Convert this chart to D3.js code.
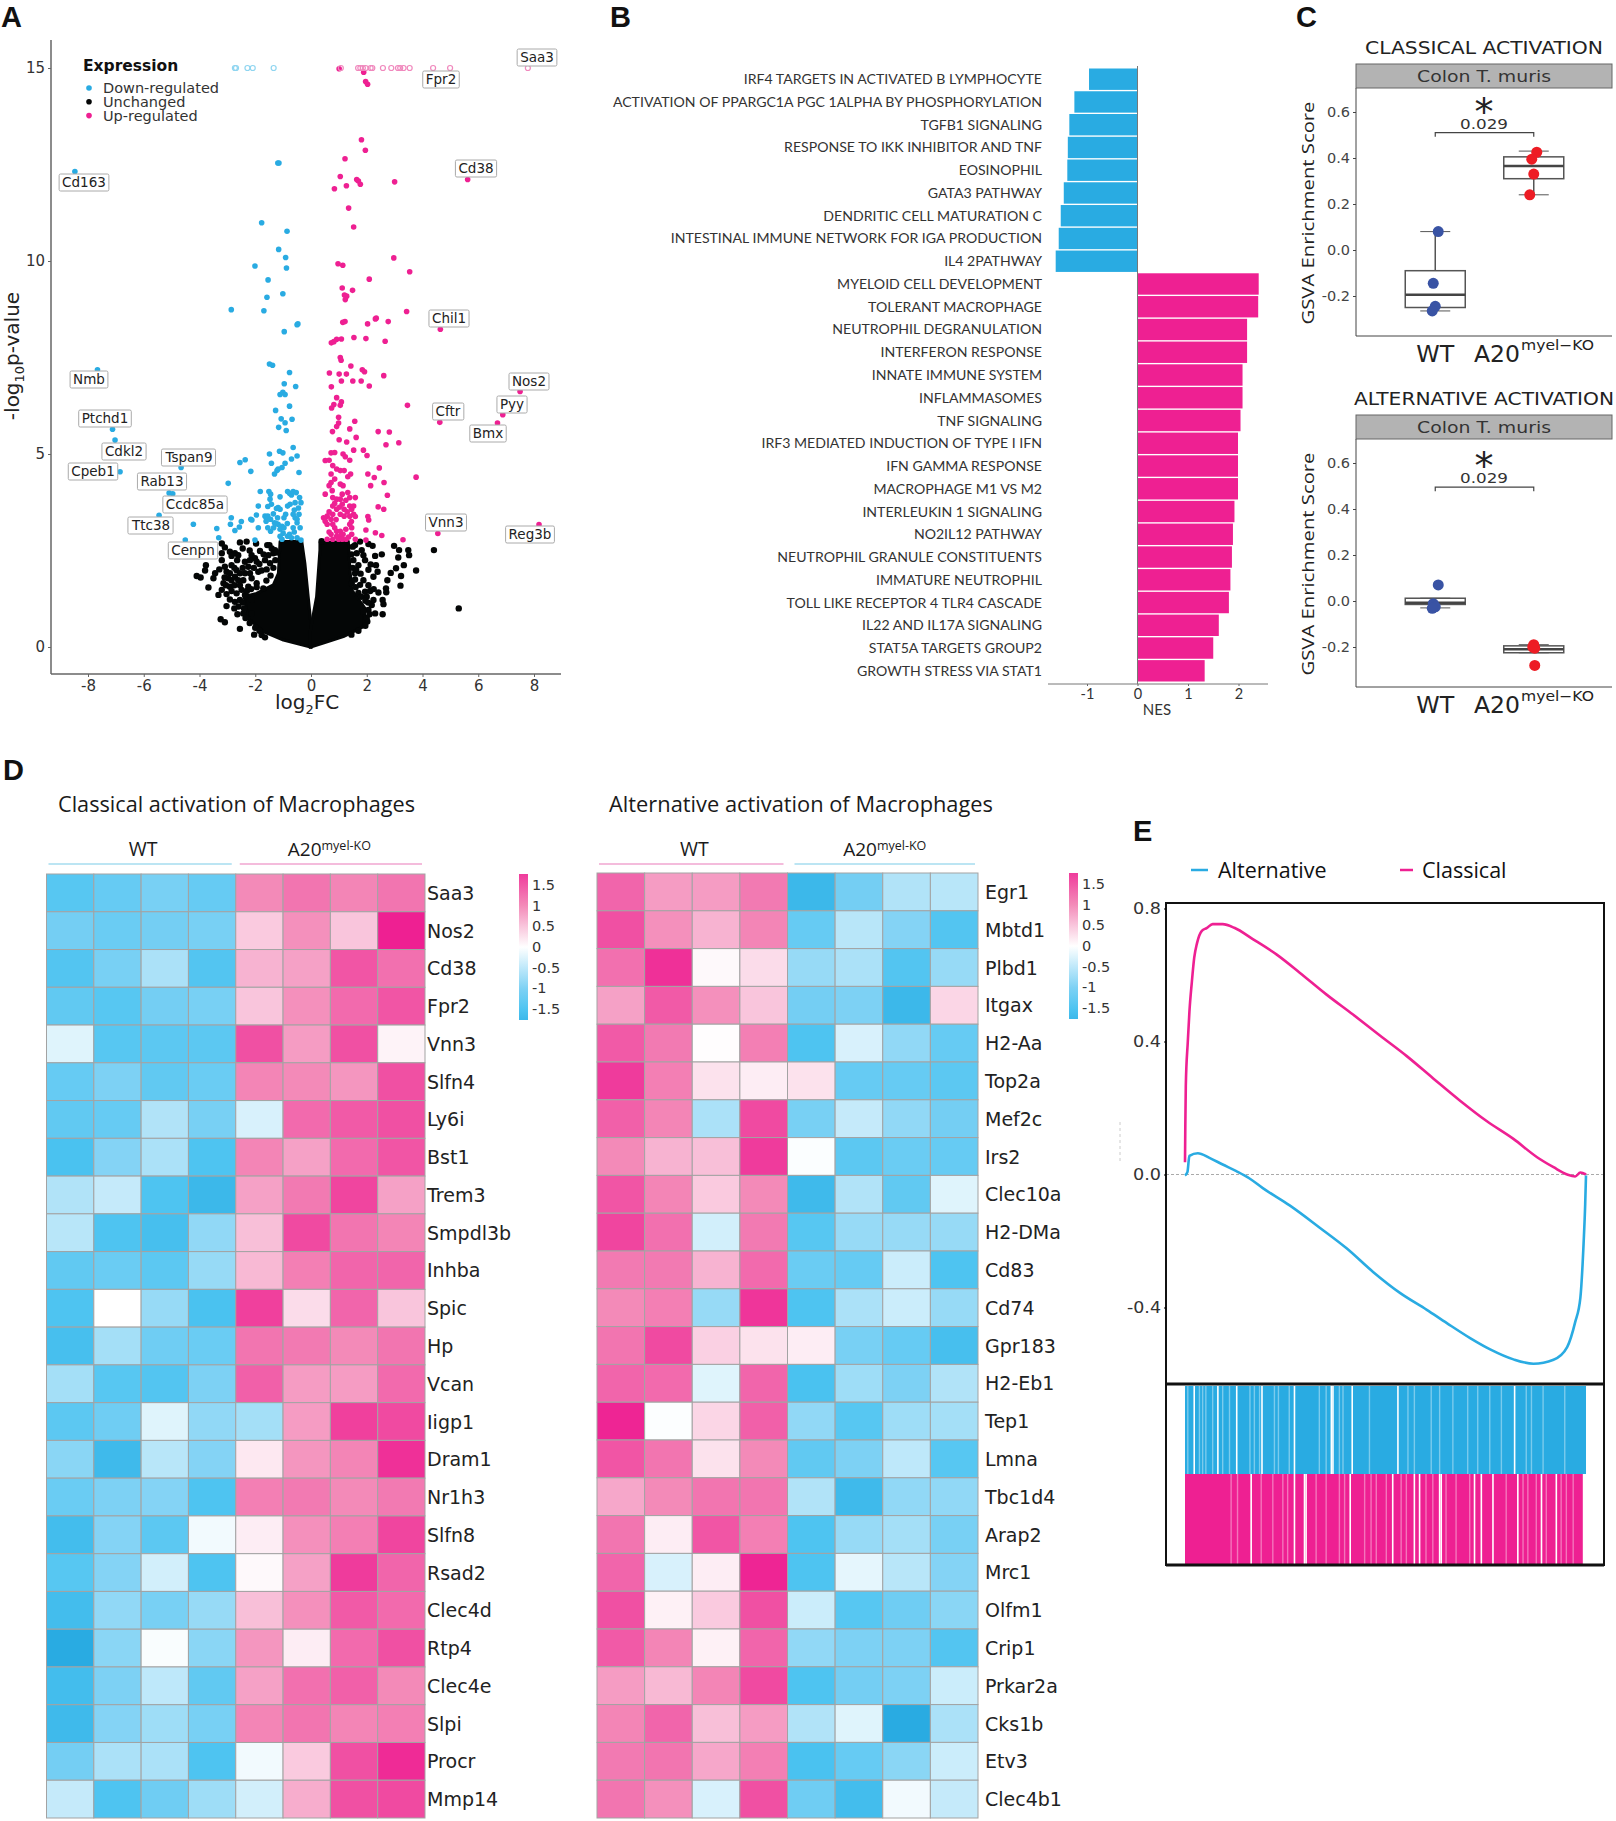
<!DOCTYPE html>
<html>
<head>
<meta charset="utf-8">
<title>A20 myeloid KO panels</title>
<script src="https://cdn.jsdelivr.net/npm/d3@7"></script>
<style>
  html, body { margin: 0; padding: 0; background: #fff; }
  svg { display: block; }
  text { font-family: "DejaVu Sans", sans-serif; }
</style>
</head>
<body>
<div id="main"></div>
<script>
// ---- panel A: volcano, [log2FC, -log10 p]
var volcanoUp = [[1.01,14.98],[1.89,14.89],[1.96,14.65],[2.03,14.58],[1.81,13.14],[1.95,12.87],[1.22,12.65],[1.05,12.19],[1.64,12.11],[1.7,12.07],[1.77,11.99],[1.27,11.95],[.84,11.87],[3.0,12.05],[5.62,12.11],[1.35,11.37],[1.53,10.88],[.97,9.93],[1.14,9.89],[2.97,10.08],[3.54,9.72],[2.09,9.53],[1.12,9.3],[1.49,9.24],[1.2,9.12],[1.28,9.09],[1.23,9.0],[3.43,8.69],[2.34,8.52],[2.31,8.5],[2.77,8.43],[1.14,8.41],[1.22,8.43],[2.03,8.37],[4.64,8.23],[1.54,8.02],[1.97,7.99],[2.66,7.92],[1.09,7.98],[.92,7.97],[.82,7.91],[.73,7.88],[1.05,7.5],[1.08,7.43],[1.43,7.28],[1.84,7.18],[1.92,7.13],[.66,7.1],[1.01,7.07],[1.27,7.07],[2.61,7.03],[.73,6.74],[1.09,6.89],[1.5,6.89],[1.8,6.89],[2.09,6.76],[.92,6.46],[1.09,6.35],[1.05,6.26],[.82,6.28],[.74,6.19],[3.46,6.26],[.99,5.95],[1.57,5.85],[.99,5.8],[.92,5.71],[1.39,5.65],[.77,5.58],[2.41,5.58],[2.81,5.57],[4.62,5.82],[1.62,5.43],[1.01,5.37],[1.28,5.31],[3.15,5.29],[2.69,5.24],[7.5,6.62],[6.88,6.02],[6.69,5.8],[8.18,3.17],[4.55,2.94],[3.3,2.78],[1.53,5.1],[1.88,5.1],[2.01,4.96],[.72,5.03],[.85,5.04],[1.15,5.0],[1.23,4.93],[1.39,4.84],[.51,4.83],[.65,4.84],[.78,4.7],[.92,4.61],[1.05,4.57],[1.19,4.57],[.72,4.48],[1.32,4.41],[1.42,4.48],[2.04,4.48],[2.27,4.39],[2.45,4.64],[2.62,4.26],[3.77,4.4],[.85,4.35],[.72,4.26],[.65,4.18],[1.05,4.22],[1.15,4.18],[2.14,4.18],[.51,3.96],[.76,4.05],[1.12,3.96],[1.32,4.0],[.78,3.87],[.92,3.83],[1.05,3.83],[1.39,3.87],[1.59,3.87],[2.74,3.93],[.78,3.65],[1.12,3.7],[1.39,3.65],[1.53,3.65],[2.41,3.63],[2.61,3.57],[1.05,3.44],[1.46,3.57],[1.53,3.44],[.45,3.35],[.58,3.39],[.72,3.31],[.51,3.26],[.78,3.44],[1.19,3.39],[1.39,3.39],[1.59,3.38],[2.04,3.38],[2.07,3.29],[.58,3.18],[.78,3.18],[1.39,3.18],[1.46,3.09],[1.97,3.03],[2.31,2.96],[2.54,2.89],[1.97,2.77],[.72,2.92],[.92,3.0],[1.05,3.0],[.92,2.87],[1.05,2.87],[.58,2.79],[.78,2.79],[.99,2.79],[1.12,2.79],[1.26,2.79],[1.59,2.79],[1.46,2.92],[.85,3.09],[1.19,3.57],[.92,3.57],[.65,3.5],[.85,3.72],[1.25,3.8],[1.3,3.5],[1.45,3.25],[1.25,3.05],[.65,2.98],[1.15,2.92],[1.35,2.85],[.9,3.3],[1.02,3.62]];
var volcanoDown = [[-8.47,12.32],[-1.19,12.54],[-1.15,12.54],[-1.77,10.99],[-.86,10.77],[-1.16,10.3],[-.91,10.09],[-2.01,9.87],[-.88,9.82],[-1.54,9.51],[-1.01,9.15],[-1.58,9.06],[-2.86,8.74],[-1.69,8.71],[-.5,8.35],[-.47,8.37],[-.96,8.17],[-7.66,7.18],[-1.49,7.33],[-1.38,7.3],[-.77,7.11],[-7.12,5.64],[-7.03,5.36],[-6.85,4.54],[-4.66,4.65],[-5.09,3.99],[-4.96,3.97],[-5.45,3.41],[-4.22,3.18],[-4.51,2.77],[-3.38,3.07],[-3.31,2.83],[-2.97,4.24],[-2.86,3.35],[-2.89,3.18],[-2.73,3.02],[-2.57,3.11],[-2.5,3.25],[-2.55,4.78],[-2.36,4.85],[-2.16,4.55],[-2.16,3.31],[-2.12,3.29],[-1.96,3.42],[-1.89,3.65],[-1.89,3.09],[-2.01,2.77],[-1.82,4.03],[-1.49,5.0],[-1.42,4.76],[-1.13,5.07],[-1.01,5.03],[-.64,5.17],[-.5,4.95],[-.7,4.87],[-.93,4.76],[-1.04,4.65],[-1.18,4.61],[-1.22,4.57],[-1.31,4.48],[-.43,4.52],[-.96,6.82],[-.55,6.75],[-1.11,6.54],[-1.01,6.6],[-.93,6.54],[-.77,6.24],[-1.27,6.13],[-1.07,5.91],[-.93,5.81],[-.68,5.9],[-1.16,5.69],[-.89,5.61],[-1.51,4.03],[-1.45,3.96],[-1.11,3.89],[-.84,4.03],[-.77,3.98],[-.7,3.94],[-.64,4.03],[-.53,4.0],[-.41,3.87],[-1.47,3.83],[-1.42,3.7],[-1.55,3.64],[-1.18,3.61],[-1.11,3.57],[-1.24,3.59],[-.84,3.65],[-.57,3.74],[-.36,3.74],[-1.65,3.39],[-1.55,3.39],[-1.45,3.31],[-1.61,3.26],[-1.31,3.22],[-1.18,3.18],[-1.04,3.13],[-1.34,3.09],[-1.11,3.05],[-.97,3.09],[-.91,3.44],[-.64,3.44],[-.57,3.35],[-.43,3.44],[-.5,3.31],[-.5,3.22],[-.39,3.09],[-.64,3.09],[-.77,2.92],[-1.11,2.87],[-1.04,2.79],[-.7,2.83],[-.5,2.83],[-.36,2.77],[-1.45,3.0],[-1.55,3.09],[-.84,2.87],[-.97,3.35],[-1.25,3.2],[-1.2,3.35],[-.75,3.7],[-.6,3.55],[-1.0,2.95],[-.6,2.98],[-1.35,3.45],[-.45,3.6],[-.85,3.2]];
var volcanoFlat = [[-3.2,2.68],[-3.09,2.58],[-2.55,2.71],[-2.31,2.73],[-1.97,2.68],[-1.57,2.64],[-1.49,2.64],[-1.83,2.49],[-2.91,2.47],[-2.73,2.43],[-2.61,2.38],[-2.85,2.36],[-3.2,2.43],[-3.2,2.25],[-3.77,2.12],[-3.8,1.98],[-4.1,1.84],[-3.96,1.8],[-3.44,1.91],[-3.5,1.78],[-3.29,2.01],[-3.09,2.08],[-3.03,1.95],[-2.91,1.91],[-2.85,2.12],[-2.13,2.38],[-2.01,2.3],[-2.19,2.25],[-2.37,2.21],[-2.25,2.08],[-1.95,2.21],[-1.65,2.25],[-1.47,2.17],[-1.53,2.38],[-1.89,1.95],[-1.77,1.98],[-1.59,2.01],[-2.37,1.91],[-2.19,1.91],[-2.67,1.99],[-2.55,1.91],[-2.97,1.78],[-2.85,1.73],[-2.73,1.82],[-2.61,1.73],[-2.43,1.73],[-2.13,1.78],[-3.14,1.65],[-2.91,1.56],[-3.68,1.54],[-3.32,1.35],[-3.2,1.48],[-3.03,1.37],[-2.91,1.23],[-3.03,1.06],[-2.67,1.39],[-2.49,1.48],[-2.25,1.56],[-2.73,1.17],[-2.55,1.22],[-2.37,1.35],[-2.64,.85],[-2.43,.87],[-3.24,.72],[-3.09,.64],[-2.55,.47],[-2.04,.32],[-1.77,.31],[-1.65,.25],[-2.13,.87],[-1.95,1.65],[-1.71,1.52],[-1.41,2.55],[-1.29,2.51],[-1.35,2.43],[-2.13,1.22],[-2.45,1.15],[-2.4,1.0],[-2.35,.75],[-2.2,.62],[-2,.5],[-1.85,.42],[-2.3,1.45],[-2.15,1.5],[-1.95,1.55],[-1.6,1.72],[-1.45,1.85],[-1.35,2.05],[-1.28,2.25],[-1.22,2.45],[-2.6,1.05],[-2.75,1.0],[-2.85,1.45],[-2.75,1.6],[-2.55,1.6],[-3.05,1.6],[-3.1,1.8],[-2.75,2.05],[-2.65,2.25],[-2.45,2.05],[-2.05,2.05],[-1.85,2.15],[-1.7,2.4],[-2.45,2.55],[-2.2,2.5],[.38,2.74],[1.58,2.64],[1.76,2.73],[2.06,2.67],[2.21,2.62],[1.82,2.51],[1.88,2.38],[1.64,2.43],[1.94,2.25],[1.52,2.25],[1.7,2.12],[2.3,2.36],[2.54,2.4],[2.33,2.12],[2.14,2.14],[2.06,2.0],[2.39,1.95],[2.24,1.82],[2.98,2.62],[3.16,2.51],[3.49,2.51],[3.52,2.38],[3.13,2.32],[3.33,2.12],[3.77,1.98],[3.05,2.04],[2.86,1.92],[3.23,1.84],[3.21,1.59],[2.74,1.73],[2.69,1.52],[2.7,1.42],[2.42,1.41],[2.57,1.22],[2.6,1.11],[2.57,.85],[2.24,1.22],[2.3,.87],[1.94,1.43],[2.06,1.6],[1.88,1.73],[1.76,1.61],[1.58,1.91],[1.46,1.65],[2.0,1.3],[2.18,1.09],[2.06,.96],[2.02,.66],[1.88,.91],[4.41,2.51],[5.3,1.0],[1.5,2.6],[1.45,2.4],[1.5,2.05],[1.58,1.75],[1.7,1.4],[1.8,1.3],[1.95,1.2],[2.05,1.15],[2.1,.85],[2.0,.75],[1.95,.55],[1.7,.42],[1.45,.32],[1.62,2.0],[1.78,1.9],[2.12,1.45],[2.25,1.5],[1.6,1.55]];
// outlines of the solid black mass, where single points cannot be told apart
var massLeft = [[.02,.44],[-.1,1.3],[-.22,2.17],[-.33,2.73],[-1.11,2.73],[-1.17,1.91],[-1.35,1.61],[-1.95,1.39],[-2.4,1.3],[-2.25,.74],[-1.71,.4],[-.99,.18],[.02,-.01]];
var massRight = [[-.04,.36],[.2,1.3],[.32,2.51],[.32,2.7],[1.34,2.73],[1.4,2.0],[1.46,1.48],[1.94,1.0],[1.88,.53],[1.16,.27],[.44,.1],[-.04,-.01]];
var cappedDown = [-2.73,-2.69,-2.28,-2.09,-1.34];
var cappedUp = [1.07,1.69,1.77,1.86,1.96,2.14,2.2,2.58,2.88,3.12,3.2,3.32,3.54,4.38,4.99,7.78];
var volcanoXTicks = [-8,-6,-4,-2,0,2,4,6,8];
var volcanoYTicks = [0,5,10,15];
var volcanoLegend = ['Down-regulated','Unchanged','Up-regulated'];
var geneTags = ['Saa3','Fpr2','Cd163','Cd38','Chil1','Nmb','Nos2','Pyy','Cftr','Bmx','Ptchd1','Cdkl2','Tspan9','Cpeb1','Rab13','Ccdc85a','Ttc38','Vnn3','Reg3b','Cenpn'];

// ---- panel B: pathways and NES
var pathways = ['IRF4 TARGETS IN ACTIVATED B LYMPHOCYTE','ACTIVATION OF PPARGC1A PGC 1ALPHA BY PHOSPHORYLATION','TGFB1 SIGNALING','RESPONSE TO IKK INHIBITOR AND TNF','EOSINOPHIL','GATA3 PATHWAY','DENDRITIC CELL MATURATION C','INTESTINAL IMMUNE NETWORK FOR IGA PRODUCTION','IL4 2PATHWAY','MYELOID CELL DEVELOPMENT','TOLERANT MACROPHAGE','NEUTROPHIL DEGRANULATION','INTERFERON RESPONSE','INNATE IMMUNE SYSTEM','INFLAMMASOMES','TNF SIGNALING','IRF3 MEDIATED INDUCTION OF TYPE I IFN','IFN GAMMA RESPONSE','MACROPHAGE M1 VS M2','INTERLEUKIN 1 SIGNALING','NO2IL12 PATHWAY','NEUTROPHIL GRANULE CONSTITUENTS','IMMATURE NEUTROPHIL','TOLL LIKE RECEPTOR 4 TLR4 CASCADE','IL22 AND IL17A SIGNALING','STAT5A TARGETS GROUP2','GROWTH STRESS VIA STAT1'];
var nes = [-.96,-1.25,-1.35,-1.38,-1.39,-1.46,-1.52,-1.56,-1.62,2.4,2.39,2.17,2.17,2.08,2.08,2.04,1.99,1.99,1.99,1.92,1.89,1.87,1.84,1.81,1.61,1.5,1.33];
var nesTicks = [-1,0,1,2];

// ---- panel C: GSVA scores, [q1, median, q3, low whisker, high whisker]
var gsvaTicks = [-.2,0,.2,.4,.6];
var classicalWtBox = [-.25,-.195,-.09,-.265,.08];
var classicalKoBox = [.31,.365,.405,.24,.43];
var alternativeWtBox = [-.015,-.008,.012,-.03,.012];
var alternativeKoBox = [-.225,-.21,-.195,-.225,-.19];
var classicalWtScores = [.08,-.145,-.245,-.265];
var classicalKoScores = [.425,.395,.33,.24];
var alternativeWtScores = [.07,-.012,-.025,-.032];
var alternativeKoScores = [-.19,-.2,-.205,-.28];

// ---- panel D: z scores per gene, 4 WT then 4 KO
var classicalGenes = ['Saa3','Nos2','Cd38','Fpr2','Vnn3','Slfn4','Ly6i','Bst1','Trem3','Smpdl3b','Inhba','Spic','Hp','Vcan','Iigp1','Dram1','Nr1h3','Slfn8','Rsad2','Clec4d','Rtp4','Clec4e','Slpi','Procr','Mmp14'];
var classicalZ = [
  [-1.4,-1.25,-1.05,-1.25,1.0,1.2,1.05,1.2],
  [-1.1,-1.2,-1.1,-1.05,.45,.95,.5,2.0],
  [-1.45,-1.05,-.65,-1.45,.65,.8,1.5,1.25],
  [-1.3,-1.4,-1.1,-1.05,.5,.95,1.3,1.5],
  [-.25,-1.4,-1.35,-1.35,1.55,.85,1.55,.1],
  [-1.25,-1.0,-1.3,-1.2,1.05,1.0,.9,1.55],
  [-1.3,-1.25,-.6,-1.05,-.3,1.3,1.45,1.55],
  [-1.55,-.95,-.65,-1.5,1.05,.8,1.3,1.5],
  [-.6,-.45,-1.5,-1.75,.8,1.15,1.65,.8],
  [-.55,-1.5,-1.6,-.85,.55,1.6,1.2,1.05],
  [-1.3,-1.2,-1.35,-.8,.6,1.1,1.35,1.35],
  [-1.5,0,-.8,-1.55,1.7,.3,1.35,.5],
  [-1.6,-.7,-1.15,-1.2,1.2,1.15,1.0,1.2],
  [-.7,-1.4,-1.45,-1.0,1.4,.85,.85,1.3],
  [-1.35,-1.15,-.25,-.85,-.7,.85,1.7,1.6],
  [-.9,-1.7,-.55,-.95,.2,.9,1.05,1.85],
  [-1.2,-1.0,-.95,-1.5,1.1,1.15,1.0,1.15],
  [-1.65,-.95,-1.35,-.1,.15,.95,1.1,1.65],
  [-1.4,-.95,-.35,-1.5,.05,.8,1.75,1.35],
  [-1.65,-.85,-1.05,-.8,.55,.95,1.45,1.3],
  [-2,-.9,-.05,-.9,.9,.15,1.3,1.55],
  [-1.65,-1.0,-.5,-1.3,.8,1.25,1.4,1.0],
  [-1.7,-.95,-.75,-1.05,1.05,1.2,1.05,1.1],
  [-1.1,-.65,-.65,-1.5,-.1,.45,1.55,1.9],
  [-.45,-1.5,-1.15,-.75,-.35,.7,1.55,1.6]
];
var alternativeGenes = ['Egr1','Mbtd1','Plbd1','Itgax','H2-Aa','Top2a','Mef2c','Irs2','Clec10a','H2-DMa','Cd83','Cd74','Gpr183','H2-Eb1','Tep1','Lmna','Tbc1d4','Arap2','Mrc1','Olfm1','Crip1','Prkar2a','Cks1b','Etv3','Clec4b1'];
var alternativeZ = [
  [1.35,.85,.85,1.15,-1.75,-1.1,-.6,-.55],
  [1.55,.95,.65,1.05,-1.25,-.55,-.95,-1.45],
  [1.25,1.85,.05,.3,-.8,-.65,-1.45,-.8],
  [.8,1.45,.95,.5,-1.1,-1.0,-1.75,.35],
  [1.45,1.15,.02,1.1,-1.5,-.3,-.85,-1.25],
  [1.75,1.1,.25,.15,.25,-1.25,-1.25,-1.35],
  [1.4,1.05,-.65,1.6,-1.05,-.45,-.85,-1.1],
  [1.0,.65,.55,1.75,-.03,-1.35,-1.2,-1.25],
  [1.5,1.05,.45,1.0,-1.7,-.6,-1.3,-.25],
  [1.65,1.25,-.35,1.15,-1.4,-.8,-.8,-.8],
  [1.15,1.15,.65,1.3,-1.2,-1.25,-.4,-1.5],
  [1.0,1.1,-.8,1.8,-1.5,-.65,-.4,-.8],
  [1.2,1.6,.4,.25,.15,-1.05,-1.25,-1.6],
  [1.35,1.3,-.25,1.35,-1.55,-.75,-1.0,-.6],
  [1.95,-.02,.35,1.4,-.85,-1.4,-.75,-.7],
  [1.5,1.2,.25,1.0,-1.3,-1.0,-.5,-1.4],
  [.75,1.0,1.2,1.2,-.6,-1.7,-.85,-.85],
  [1.2,.15,1.5,1.1,-1.5,-.8,-.7,-1.05],
  [1.35,-.3,.15,1.95,-1.5,-.2,-.55,-.95],
  [1.55,.12,.45,1.55,-.4,-1.4,-1.15,-.9],
  [1.45,1.05,.12,1.35,-.85,-1.0,-1.0,-1.45],
  [.85,.6,1.05,1.6,-1.5,-1.1,-1.0,-.4],
  [1.05,1.35,.55,.85,-.6,-.25,-2,-.65],
  [1.15,1.2,.75,1.1,-1.55,-1.25,-.9,-.4],
  [1.2,.95,-.3,1.55,-1.15,-1.65,-.1,-.45]
];
var zLegendTicks = [1.5,1,.5,0,-.5,-1,-1.5];

// ---- panel E: enrichment curves, [rank %, running score]
var classicalCurve = [[0,.037],[.08,.148],[.2,.267],[.7,.4],[1.1,.489],[1.7,.578],[2.3,.652],[3,.696],[4.2,.733],[5.4,.741],[6.9,.753],[9.4,.753],[12.3,.742],[16.9,.708],[22.8,.662],[28.6,.607],[35.3,.541],[41.9,.481],[48.6,.418],[55.3,.356],[61.9,.289],[68.6,.222],[75.3,.16],[81.9,.107],[87.8,.052],[91.9,.022],[95.3,0],[97.3,-.006],[98.6,.006],[100,0]];
var alternativeCurve = [[0,-.003],[.6,.007],[1.1,.056],[3.2,.064],[6.1,.05],[9.4,.03],[12.8,.01],[16.1,-.012],[19.4,-.041],[26.1,-.093],[33.6,-.16],[40.3,-.222],[46.9,-.293],[53.6,-.356],[60.3,-.407],[65.3,-.447],[71.1,-.492],[76.1,-.526],[81.9,-.556],[86.9,-.569],[91.9,-.557],[95.3,-.519],[97.3,-.444],[98.6,-.37],[99.4,-.207],[99.8,-.089],[100,-.003]];
var enrichTicks = [-.4,0,.4,.8];
// rug bands: clear white gaps and fainter streaks between gene hits (rank %)
var alternativeRugGaps = [2.3,8.2,12.9,19.2,27.3,36.5,36.9,41.7,53.1,82.2];
var alternativeRugFaint = [.7,3.6,4.4,5.2,6.9,9.4,11.1,16.2,17.3,18.6,22.3,23.3,26,33.5,35.2,38.5,39.4,46,55.6,57.2,61.4,63.5,66.8,70.5,73,76,78.9,85.1,86.4,89.3,94.7];
var classicalRugGaps = [16.5,27.3,29.8,30.2,41.2,51.8,57.2,58.5,63.5,63.9,72.2,73.9,76.8,83,88.9,92.6];
var classicalRugFaint = [11.5,13.1,19,21.9,24.4,25.6,32.7,35.2,38.5,39.8,44.8,46.4,47.7,50.2,53.9,55.2,60.1,61.8,65.1,67.6,71,80.1,84.3,85.5,87.6,90.1,93.8,95.1,96.8];

var blue = '#29abe2', pink = '#ee2092';
var svg = d3.select('#main').append('svg').attr('width', 1616).attr('height', 1821);

// d3 formats negatives with a true minus, the figure has hyphens
function hyphen(f) {
  return function(d) { return f(d).replace('\u2212', '-'); };
}

// panel letters
[['A',1,27],['B',610,27],['C',1296,27],['D',3,780],['E',1133,841]].forEach(function(p) {
  svg.append('text').attr('x', p[1]).attr('y', p[2]).text(p[0])
    .style('font-family', '"Liberation Sans"').style('font-weight', 'bold').style('font-size', '29px').attr('fill', '#111');
});

// stretched text, several panels were resized unevenly in the figure
function fitText(g, x, y, str, len, size, anchor, fill, family) {
  return g.append('text').attr('x', x).attr('y', y).text(str)
    .attr('text-anchor', anchor || 'start').attr('textLength', len).attr('lengthAdjust', 'spacingAndGlyphs')
    .style('font-size', size + 'px').style('font-family', family || '"DejaVu Sans"').attr('fill', fill || '#222');
}

/* ---------- A ---------- */
var vx = d3.scaleLinear().domain([-8, 8]).range([88, 534]);
var vy = d3.scaleLinear().domain([0, 15]).range([647, 68]);
var gA = svg.append('g');

var massLine = d3.line().x(function(d) { return vx(d[0]); }).y(function(d) { return vy(d[1]); }).curve(d3.curveLinearClosed);
[massLeft, massRight].forEach(function(m) {
  gA.append('path').attr('d', massLine(m)).attr('fill', '#040606').attr('stroke', '#040606').attr('stroke-width', 3).attr('stroke-linejoin', 'round');
});
gA.selectAll('.flat').data(volcanoFlat).enter().append('circle').attr('class', 'flat')
  .attr('cx', function(d) { return vx(d[0]); }).attr('cy', function(d) { return vy(d[1]); }).attr('r', 3.2).attr('fill', '#040606');
gA.selectAll('.down').data(volcanoDown).enter().append('circle').attr('class', 'down')
  .attr('cx', function(d) { return vx(d[0]); }).attr('cy', function(d) { return vy(d[1]); }).attr('r', 2.8).attr('fill', blue);
gA.selectAll('.up').data(volcanoUp).enter().append('circle').attr('class', 'up')
  .attr('cx', function(d) { return vx(d[0]); }).attr('cy', function(d) { return vy(d[1]); }).attr('r', 2.8).attr('fill', pink);
gA.selectAll('.capD').data(cappedDown).enter().append('circle').attr('class', 'capD')
  .attr('cx', function(d) { return vx(d); }).attr('cy', vy(15)).attr('r', 2.5).attr('fill', 'none').attr('stroke', '#8fd5f0').attr('stroke-width', 1.2);
gA.selectAll('.capU').data(cappedUp).enter().append('circle').attr('class', 'capU')
  .attr('cx', function(d) { return vx(d); }).attr('cy', vy(15)).attr('r', 2.5).attr('fill', 'none').attr('stroke', '#f088bd').attr('stroke-width', 1.2);

var xAxisA = gA.append('g').attr('transform', 'translate(0,674)')
  .call(d3.axisBottom(vx).tickValues(volcanoXTicks).tickSize(3).tickFormat(hyphen(d3.format('d'))));
var yAxisA = gA.append('g').attr('transform', 'translate(51,0)')
  .call(d3.axisLeft(vy).tickValues(volcanoYTicks).tickSize(3));
[xAxisA, yAxisA].forEach(function(a) {
  a.selectAll('text').style('font-size', '15px').attr('fill', '#333');
  a.selectAll('line').attr('stroke', '#666');
  a.select('.domain').remove();
});
gA.append('line').attr('x1', 51).attr('x2', 561).attr('y1', 674).attr('y2', 674).attr('stroke', '#666').attr('stroke-width', 1.5);
gA.append('line').attr('x1', 51).attr('x2', 51).attr('y1', 40).attr('y2', 674).attr('stroke', '#666').attr('stroke-width', 1.5);

gA.append('text').attr('x', 83).attr('y', 71).text('Expression').style('font-weight', 'bold').style('font-size', '15.5px').attr('fill', '#111');
[blue, '#040606', pink].forEach(function(c, i) {
  var ly = 88 + i * 13.8;
  gA.append('circle').attr('cx', 89).attr('cy', ly).attr('r', 2.8).attr('fill', c);
  gA.append('text').attr('x', 103).attr('y', ly + 5).text(volcanoLegend[i]).style('font-size', '14.5px').attr('fill', '#333');
});

var xLabA = gA.append('text').attr('x', 307).attr('y', 709).attr('text-anchor', 'middle').style('font-size', '20px').attr('fill', '#222');
xLabA.append('tspan').text('log');
xLabA.append('tspan').text('2').attr('dy', 5).style('font-size', '13px');
xLabA.append('tspan').text('FC').attr('dy', -5);
var yLabA = gA.append('text').attr('transform', 'translate(19,356) rotate(-90)').attr('text-anchor', 'middle').style('font-size', '20px').attr('fill', '#222');
yLabA.append('tspan').text('-log');
yLabA.append('tspan').text('10').attr('dy', 5).style('font-size', '13px');
yLabA.append('tspan').text('p-value').attr('dy', -5);

// boxed gene names, centres as placed in the figure
var tagCentres = [[537,57],[441,79],[84,182],[476,168],[449,318],[89,379],[529,381],[512,404],[448,411],[488,433],[105,418],[124,451],[189,457],[93,471],[162,481],[195,504],[151,525],[446,522],[530,534],[193,550]];
geneTags.forEach(function(name, i) {
  var t = gA.append('text').attr('x', tagCentres[i][0]).attr('y', tagCentres[i][1] + 5).attr('text-anchor', 'middle')
    .text(name).style('font-size', '13.5px').attr('fill', '#222');
  var b = t.node().getBBox();
  gA.insert('rect', function() { return t.node(); })
    .attr('x', b.x - 3).attr('y', b.y).attr('width', b.width + 6).attr('height', b.height + 1)
    .attr('rx', 1.5).attr('fill', '#fff').attr('stroke', '#aaa');
});

/* ---------- B ---------- */
var nx = d3.scaleLinear().domain([-1, 2]).range([1087, 1238.5]);
var ny = d3.scaleBand().domain(pathways).range([68.5, 681.5]).paddingInner(.06);
var gB = svg.append('g');
gB.selectAll('rect').data(pathways).enter().append('rect')
  .attr('x', function(d, i) { return Math.min(nx(0), nx(nes[i])); })
  .attr('width', function(d, i) { return Math.abs(nx(nes[i]) - nx(0)); })
  .attr('y', function(d) { return ny(d); }).attr('height', ny.bandwidth())
  .attr('fill', function(d, i) { return nes[i] < 0 ? blue : pink; });
gB.selectAll('.path').data(pathways).enter().append('text').attr('class', 'path')
  .attr('x', 1042).attr('y', function(d) { return ny(d) + ny.bandwidth() / 2 + 5; }).attr('text-anchor', 'end')
  .text(function(d) { return d; }).style('font-family', 'Lato').style('font-size', '14.1px').attr('fill', '#333');
gB.append('line').attr('x1', nx(0)).attr('x2', nx(0)).attr('y1', 66).attr('y2', 684).attr('stroke', '#777');
var axB = gB.append('g').attr('transform', 'translate(0,684)')
  .call(d3.axisBottom(nx).tickValues(nesTicks).tickSize(2).tickFormat(hyphen(d3.format('d'))));
axB.select('.domain').remove();
axB.selectAll('text').style('font-family', 'Lato').style('font-size', '14.5px').attr('fill', '#333');
axB.selectAll('line').attr('stroke', '#666');
gB.append('line').attr('x1', 1048).attr('x2', 1268).attr('y1', 684).attr('y2', 684).attr('stroke', '#777');
gB.append('text').attr('x', 1157).attr('y', 715).attr('text-anchor', 'middle').text('NES').style('font-family', 'Lato').style('font-size', '15px').attr('fill', '#333');

/* ---------- C ---------- */
var boxX = d3.scaleBand().domain(['WT', 'KO']).range([1386, 1583]).padding(0);
function gsvaPanel(top, title, titleLen, wtBox, koBox, wtPts, koPts, koJitter, bracket) {
  var g = svg.append('g');
  var y = d3.scaleLinear().domain([0, .6]).range([top + 204, top + 66]);
  fitText(g, 1484, top + 8, title, titleLen, 18, 'middle', '#222');
  g.append('rect').attr('x', 1356).attr('y', top + 18).attr('width', 256).attr('height', 24).attr('fill', '#b3b3b3').attr('stroke', '#666');
  fitText(g, 1484, top + 36, 'Colon T. muris', 134, 16.5, 'middle', '#333');
  g.append('line').attr('x1', 1356).attr('x2', 1356).attr('y1', top + 42).attr('y2', top + 290).attr('stroke', '#444');
  g.append('line').attr('x1', 1356).attr('x2', 1612).attr('y1', top + 290).attr('y2', top + 290).attr('stroke', '#444');
  var axis = g.append('g').attr('transform', 'translate(1356,0)').call(d3.axisLeft(y).tickValues(gsvaTicks).tickSize(3).tickFormat(hyphen(d3.format('.1f'))));
  axis.select('.domain').remove();
  axis.selectAll('text').style('font-size', '14.5px').attr('fill', '#444');
  axis.selectAll('line').attr('stroke', '#444');

  [[wtBox, wtPts, 'WT', '#3953a4', [3, -2, 0, -3]], [koBox, koPts, 'KO', '#ed1c24', koJitter]].forEach(function(s) {
    var cx = boxX(s[2]) + boxX.bandwidth() / 2, b = s[0];
    g.append('line').attr('x1', cx).attr('x2', cx).attr('y1', y(b[3])).attr('y2', y(b[4])).attr('stroke', '#555').attr('stroke-width', 1.5);
    g.append('line').attr('x1', cx - 15).attr('x2', cx + 15).attr('y1', y(b[3])).attr('y2', y(b[3])).attr('stroke', '#555');
    g.append('line').attr('x1', cx - 15).attr('x2', cx + 15).attr('y1', y(b[4])).attr('y2', y(b[4])).attr('stroke', '#555');
    g.append('rect').attr('x', cx - 30).attr('width', 60).attr('y', y(b[2])).attr('height', y(b[0]) - y(b[2]))
      .attr('fill', '#fff').attr('stroke', '#555').attr('stroke-width', 1.5);
    g.append('line').attr('x1', cx - 30).attr('x2', cx + 30).attr('y1', y(b[1])).attr('y2', y(b[1])).attr('stroke', '#444').attr('stroke-width', 2.5);
    g.selectAll(null).data(s[1]).enter().append('circle')
      .attr('cx', function(d, i) { return cx + s[4][i]; }).attr('cy', function(d) { return y(d); }).attr('r', 5.5).attr('fill', s[3]);
  });

  var x1 = boxX('WT') + boxX.bandwidth() / 2, x2 = boxX('KO') + boxX.bandwidth() / 2;
  g.append('path').attr('d', 'M' + x1 + ',' + (y(bracket) + 4) + 'V' + y(bracket) + 'H' + x2 + 'V' + (y(bracket) + 4)).attr('fill', 'none').attr('stroke', '#444').attr('stroke-width', 1.2);
  fitText(g, 1484, y(bracket) - 4, '0.029', 48, 14.5, 'middle', '#333');
  g.append('text').attr('x', 1484).attr('y', y(bracket) - 8).attr('text-anchor', 'middle').text('*').style('font-size', '38px').attr('fill', '#222');
  var ylab = fitText(g, 0, 0, 'GSVA Enrichment Score', 223, 17, 'middle', '#222', '"Open Sans"');
  ylab.attr('transform', 'translate(1314,' + (top + 167) + ') rotate(-90)');
  fitText(g, x1, top + 316, 'WT', 38, 23, 'middle', '#222');
  fitText(g, 1474, top + 316, 'A20', 46, 23, 'start', '#222');
  fitText(g, 1521, top + 304, 'myel\u2212KO', 73, 14, 'start', '#222');
}
gsvaPanel(46, 'CLASSICAL ACTIVATION', 238, classicalWtBox, classicalKoBox, classicalWtScores, classicalKoScores, [3, -2, 0, -4], .51);
gsvaPanel(397, 'ALTERNATIVE ACTIVATION', 260, alternativeWtBox, alternativeKoBox, alternativeWtScores, alternativeKoScores, [0, -1, 1, 1], .495);

/* ---------- D ---------- */
var heat = d3.scaleLinear().domain([-2, -1.5, -1, 0, 1, 2]).range([blue, '#4ec4f1', '#7dd1f4', '#ffffff', '#f38ab8', pink]);
var columns = d3.range(8);
var defs = svg.append('defs');
var grad = defs.append('linearGradient').attr('id', 'zbar').attr('x1', 0).attr('x2', 0).attr('y1', 0).attr('y2', 1);
d3.range(1.75, -1.76, -.25).forEach(function(v) {
  grad.append('stop').attr('offset', (1.75 - v) / 3.5).attr('stop-color', heat(v));
});

function heatmap(title, titleX, titleLen, genes, rows, x0, x1, y0, y1, leftColor, rightColor, legendX, labelGap, headShift) {
  var g = svg.append('g');
  var cx = d3.scaleBand().domain(columns).range([x0, x1]);
  var cy = d3.scaleBand().domain(genes).range([y0, y1]);
  fitText(g, titleX, 812, title, titleLen, 22.5, 'start', '#1a1a1a', '"Open Sans"');
  rows.forEach(function(row, r) {
    g.selectAll(null).data(row).enter().append('rect')
      .attr('x', function(d, i) { return cx(i); }).attr('y', cy(genes[r]))
      .attr('width', cx.bandwidth()).attr('height', cy.bandwidth())
      .attr('fill', function(d) { return heat(d); }).attr('stroke', '#a3a3a3').attr('stroke-width', 1);
  });
  g.selectAll('.gene').data(genes).enter().append('text').attr('class', 'gene')
    .attr('x', x1 + labelGap).attr('y', function(d) { return cy(d) + cy.bandwidth() / 2 + 7; })
    .text(function(d) { return d; }).style('font-size', '19px').attr('fill', '#222');
  var mid = (x0 + x1) / 2;
  g.append('line').attr('x1', x0 + 2).attr('x2', mid - 4).attr('y1', 864).attr('y2', 864).attr('stroke', leftColor).attr('stroke-width', 1.6);
  g.append('line').attr('x1', mid + 4 + headShift).attr('x2', x1 - 3).attr('y1', 864).attr('y2', 864).attr('stroke', rightColor).attr('stroke-width', 1.6);
  g.append('text').attr('x', (x0 + mid) / 2 + 2).attr('y', 856).attr('text-anchor', 'middle').text('WT').style('font-family', '"Open Sans"').style('font-size', '19.5px').attr('fill', '#1a1a1a');
  var ko = g.append('text').attr('x', (mid + x1) / 2 - 1 + headShift).attr('y', 856).attr('text-anchor', 'middle').style('font-family', '"Open Sans"').style('font-size', '19px').attr('fill', '#1a1a1a');
  ko.append('tspan').text('A20');
  ko.append('tspan').text('myel-KO').attr('dy', -6).style('font-size', '12.5px');
  g.append('rect').attr('x', legendX).attr('y', y0).attr('width', 9).attr('height', 146).attr('fill', 'url(#zbar)');
  var ly = d3.scaleLinear().domain([1.5, -1.5]).range([y0 + 11, y0 + 135]);
  var ax = g.append('g').attr('transform', 'translate(' + (legendX + 11) + ',0)').call(d3.axisRight(ly).tickValues(zLegendTicks).tickSize(0).tickFormat(hyphen(d3.format(''))));
  ax.select('.domain').remove();
  ax.selectAll('text').attr('x', 2).style('font-size', '14.5px').attr('fill', '#333');
}
heatmap('Classical activation of Macrophages', 58, 357, classicalGenes, classicalZ, 46.5, 425, 874, 1818, '#a6dcef', '#f0a6d0', 519, 2, 0);
heatmap('Alternative activation of Macrophages', 609, 384, alternativeGenes, alternativeZ, 597, 978, 873, 1818, '#f0a6d0', '#a6dcef', 1069, 7, 3);

/* ---------- E ---------- */
var ex = d3.scaleLinear().domain([0, 100]).range([1185, 1586]);
var ey = d3.scaleLinear().domain([-.4, .8]).range([1307.5, 908.5]);
var gE = svg.append('g');
gE.append('line').attr('x1', 1166).attr('x2', 1604).attr('y1', ey(0)).attr('y2', ey(0)).attr('stroke', '#aaa').attr('stroke-dasharray', '3,2');
var curve = d3.line().x(function(d) { return ex(d[0]); }).y(function(d) { return ey(d[1]); }).curve(d3.curveMonotoneX);
gE.append('path').attr('d', curve(classicalCurve)).attr('fill', 'none').attr('stroke', pink).attr('stroke-width', 2.6);
gE.append('path').attr('d', curve(alternativeCurve)).attr('fill', 'none').attr('stroke', blue).attr('stroke-width', 2.6);

// rug bands: the band is the run of hits, the arrays carry what shows through it
function rug(gaps, faint, endRank, y, h, color) {
  gE.append('rect').attr('x', ex(0)).attr('width', ex(endRank) - ex(0)).attr('y', y).attr('height', h).attr('fill', color);
  gE.selectAll(null).data(faint).enter().append('line')
    .attr('x1', function(d) { return ex(d); }).attr('x2', function(d) { return ex(d); })
    .attr('y1', y).attr('y2', y + h).attr('stroke', '#fff').attr('stroke-opacity', .38).attr('stroke-width', 1.4);
  gE.selectAll(null).data(gaps).enter().append('line')
    .attr('x1', function(d) { return ex(d); }).attr('x2', function(d) { return ex(d); })
    .attr('y1', y).attr('y2', y + h).attr('stroke', '#fff').attr('stroke-width', 1.6);
}
rug(alternativeRugGaps, alternativeRugFaint, 100, 1386, 88, blue);
rug(classicalRugGaps, classicalRugFaint, 99.2, 1474, 90, pink);

gE.append('rect').attr('x', 1166).attr('y', 903).attr('width', 438).attr('height', 662).attr('fill', 'none').attr('stroke', '#111').attr('stroke-width', 2);
gE.append('line').attr('x1', 1166).attr('x2', 1604).attr('y1', 1384).attr('y2', 1384).attr('stroke', '#111').attr('stroke-width', 3);
gE.append('line').attr('x1', 1166).attr('x2', 1604).attr('y1', 1565).attr('y2', 1565).attr('stroke', '#111').attr('stroke-width', 3);
var axE = gE.append('g').attr('transform', 'translate(1166,0)').call(d3.axisLeft(ey).tickValues(enrichTicks).tickSize(2).tickFormat(hyphen(d3.format('.1f'))));
axE.select('.domain').remove();
axE.selectAll('text').style('font-size', '15px').attr('fill', '#333')
  .attr('textLength', function(d) { return d < 0 ? 34 : 28; }).attr('lengthAdjust', 'spacingAndGlyphs');

[['Alternative', 1191, 1208, 1218, blue], ['Classical', 1400, 1413, 1422, pink]].forEach(function(l) {
  gE.append('line').attr('x1', l[1]).attr('x2', l[2]).attr('y1', 870).attr('y2', 870).attr('stroke', l[4]).attr('stroke-width', 2.5);
  gE.append('text').attr('x', l[3]).attr('y', 878).text(l[0]).style('font-family', '"Open Sans"').style('font-size', '21.5px').attr('fill', '#111');
});
gE.append('line').attr('x1', 1120).attr('x2', 1120).attr('y1', 1122).attr('y2', 1162).attr('stroke', '#ccc').attr('stroke-dasharray', '3,3');
</script>
</body>
</html>
